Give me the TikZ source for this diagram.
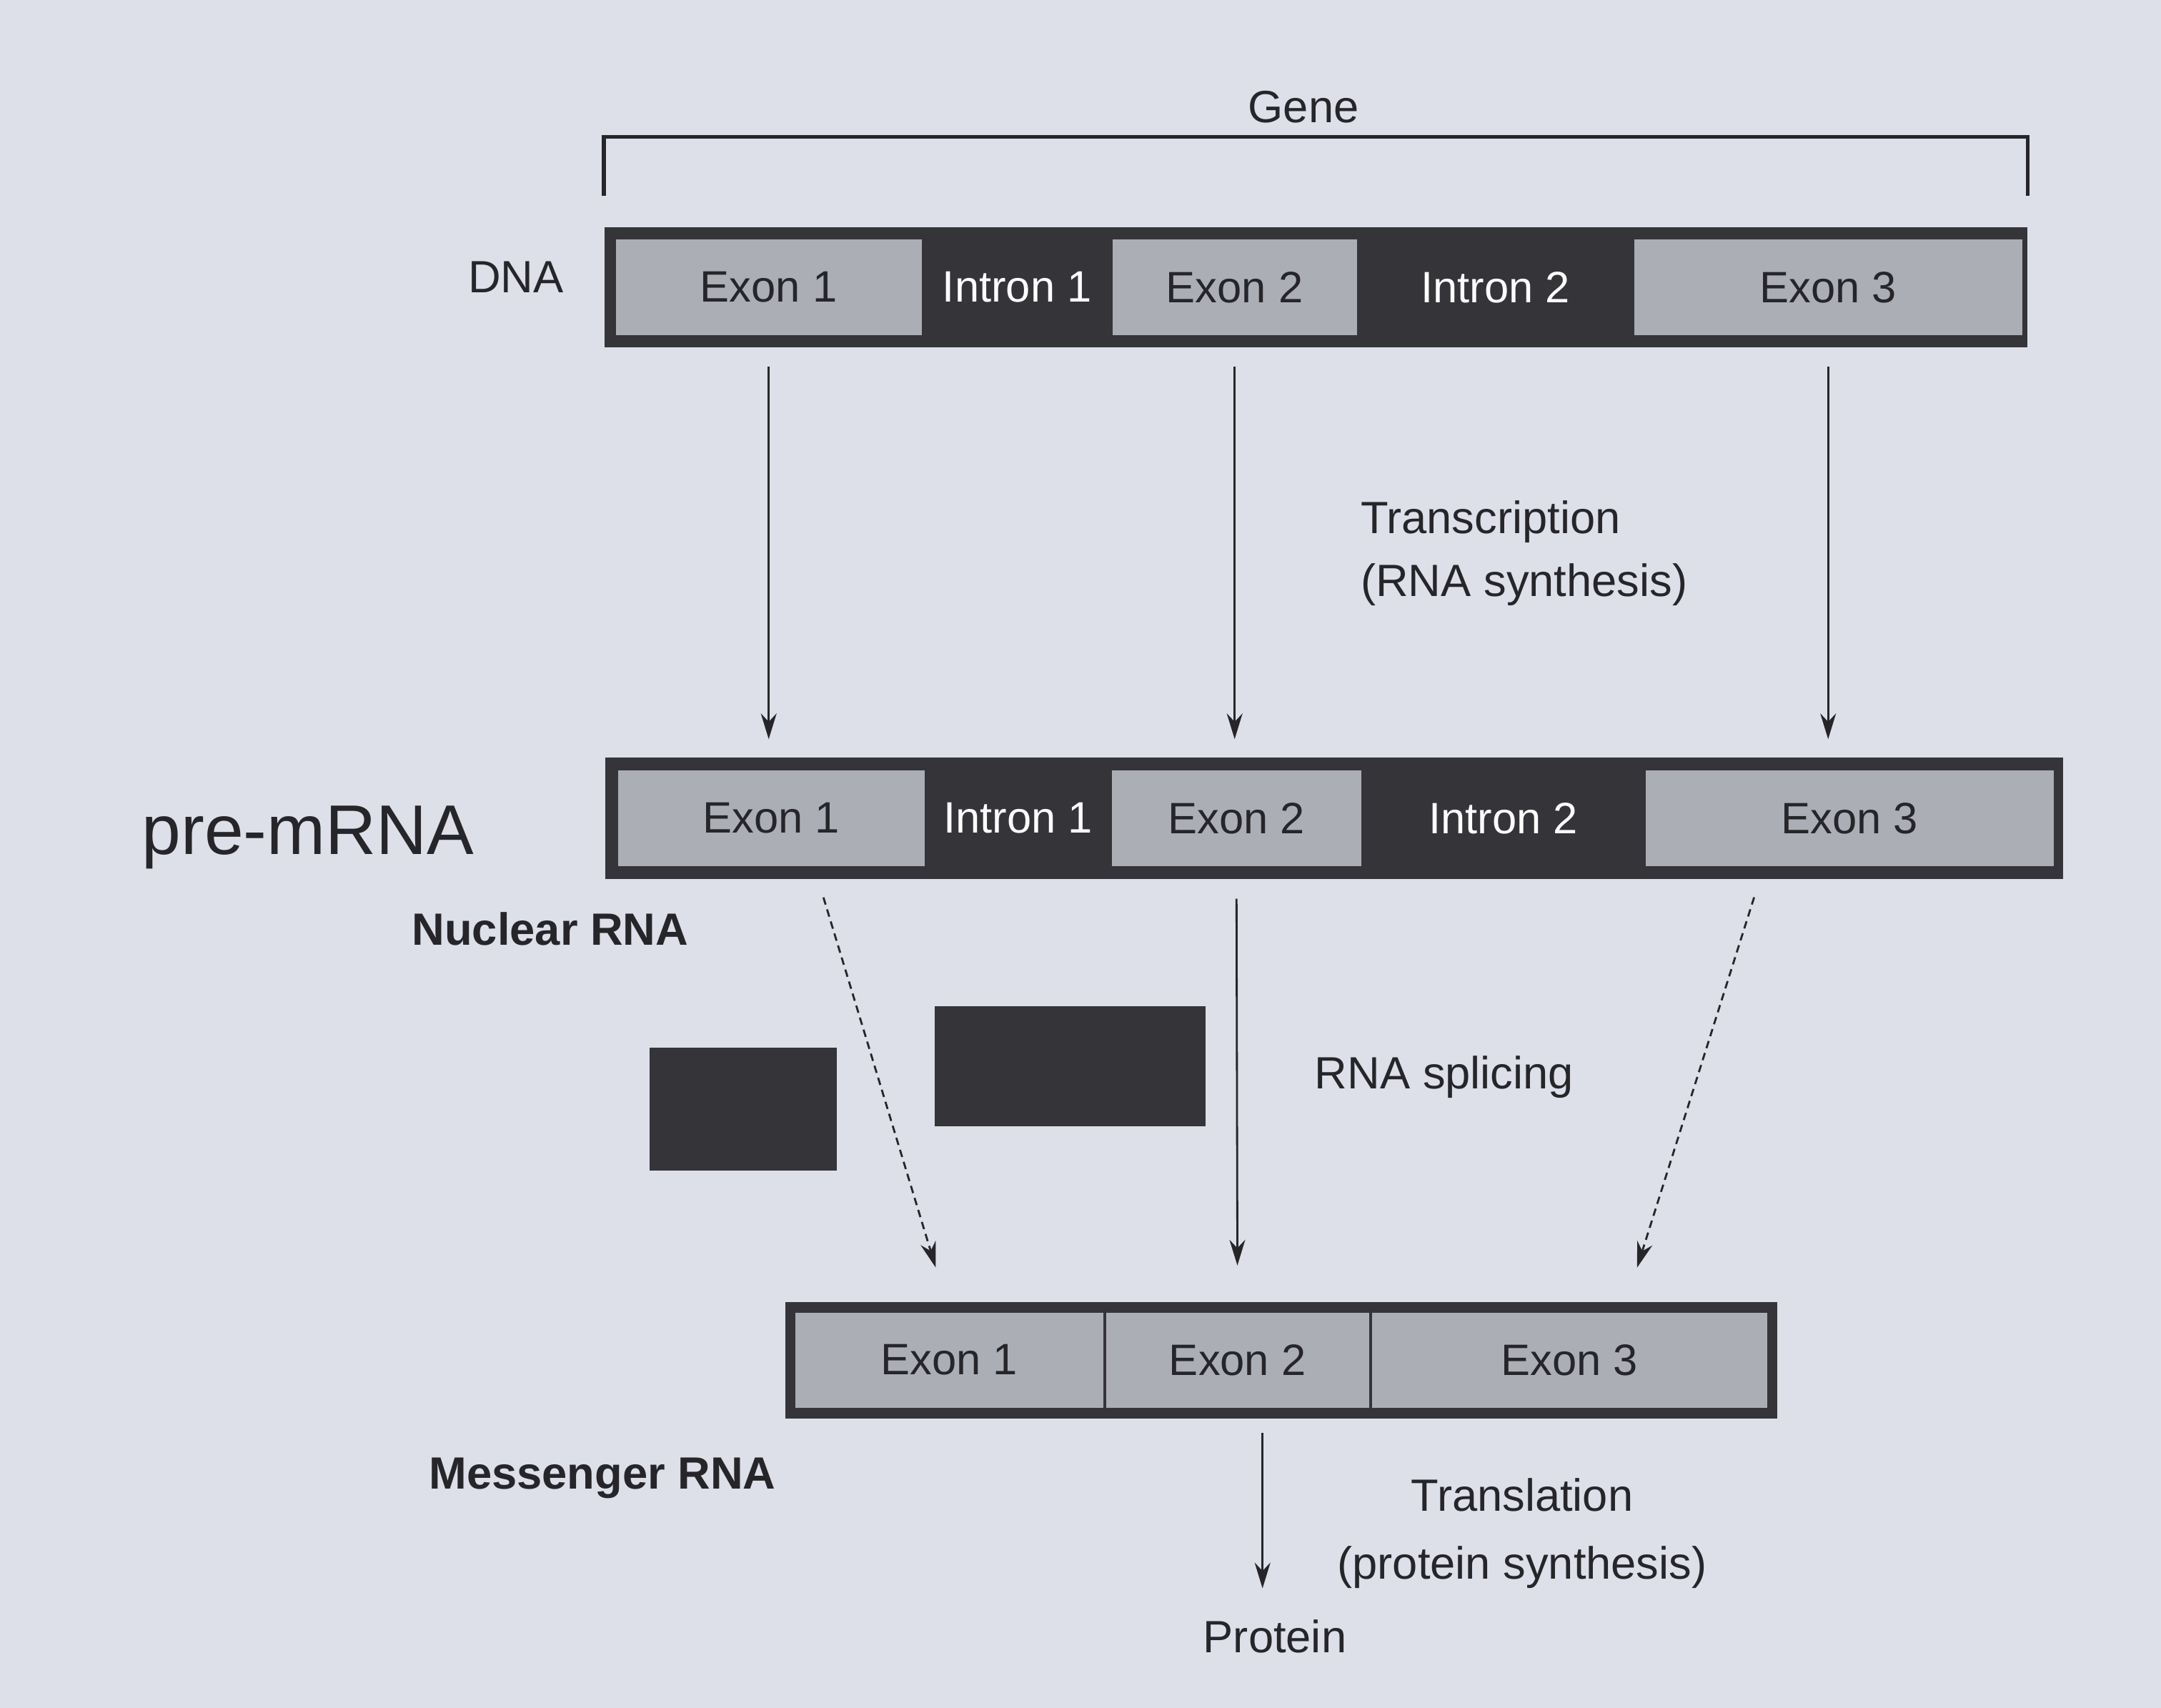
\documentclass[tikz,border=0pt]{standalone}
\usepackage{fontspec}
\setmainfont{Liberation Sans}
\usetikzlibrary{arrows.meta}
\definecolor{paper}{RGB}{221,223,233}
\definecolor{exongray}{RGB}{172,174,182}
\definecolor{bardark}{RGB}{52,52,57}
\definecolor{ink}{RGB}{38,38,42}
\tikzset{
  bar/.style={fill=bardark, inner sep=0pt, minimum height=1.68cm},
  exonbox/.style={fill=exongray, inner sep=0pt, minimum height=1.34cm, anchor=west, text=ink, font=\fontsize{17.5}{20}\selectfont},
  intronbox/.style={inner sep=0pt, minimum height=1.34cm, anchor=west, text=white, font=\fontsize{17.5}{20}\selectfont},
  cutbox/.style={fill=bardark, inner sep=0pt},
  lbl/.style={text=ink, font=\fontsize{18}{25}\selectfont, inner sep=1pt},
  flow/.style={draw=ink, line width=0.8pt, -{Stealth[length=3.6mm,width=2.2mm]}},
  splice/.style={flow, densely dashed},
}
\begin{document}
\begin{tikzpicture}
  \useasboundingbox[fill=paper] (0,0) rectangle (30.24,-23.90);

  % DNA
  \node[bar, minimum width=19.91cm, anchor=west] (dna) at (8.45,-4.02) {};
  \foreach \n/\x/\w/\t in {de1/8.61/4.28/Exon 1, de2/15.56/3.42/Exon 2, de3/22.86/5.43/Exon 3}
    \node[exonbox, minimum width=\w cm] (\n) at (\x,-4.02) {\t};
  \foreach \n/\x/\w/\t in {di1/12.89/2.67/Intron 1, di2/18.98/3.88/Intron 2}
    \node[intronbox, minimum width=\w cm] (\n) at (\x,-4.02) {\t};
  \draw[ink, line width=1.5pt] ([yshift=0.43cm]dna.north west) -- ++(0,0.83) -| ([yshift=0.43cm]dna.north east);
  \node[lbl] (gene) at (18.24,-1.50) {Gene};
  \node[lbl] (dnalbl) at (7.22,-3.88) {DNA};

  % pre-mRNA
  \node[bar, minimum width=20.40cm, minimum height=1.70cm, anchor=west] (pre) at (8.46,-11.45) {};
  \foreach \n/\x/\w/\t in {pe1/8.64/4.29/Exon 1, pe2/15.55/3.49/Exon 2, pe3/23.02/5.71/Exon 3}
    \node[exonbox, minimum width=\w cm] (\n) at (\x,-11.45) {\t};
  \foreach \n/\x/\w/\t in {pi1/12.93/2.62/Intron 1, pi2/19.04/3.98/Intron 2}
    \node[intronbox, minimum width=\w cm] (\n) at (\x,-11.45) {\t};
  \node[lbl, font=\fontsize{28}{32}\selectfont] (prelbl) at (4.31,-11.72) {pre-mRNA};
  \node[lbl, font=\fontsize{18}{25}\selectfont\bfseries] (nuclbl) at (7.70,-13.00) {Nuclear RNA};

  % transcription
  \foreach \a/\b in {de1/pe1, de2/pe2, de3/pe3}
    \draw[flow, shorten <=0.43cm, shorten >=0.43cm] (\a.south) -- (\a.south |- \b.north);
  \node[lbl, align=left, anchor=west] (transc) at (19.00,-7.74) {Transcription\\(RNA synthesis)};

  % removed introns
  \node[cutbox, minimum width=2.62cm, minimum height=1.72cm] (cut1) at (10.40,-15.52) {};
  \node[cutbox, minimum width=3.79cm, minimum height=1.68cm] (cut2) at (14.97,-14.92) {};

  % messenger RNA
  \node[bar, minimum width=13.88cm, minimum height=1.63cm, anchor=west] (mrna) at (10.98,-19.03) {};
  \foreach \n/\x/\w/\t in {me1/11.12/4.31/Exon 1, me2/15.47/3.68/Exon 2, me3/19.19/5.53/Exon 3}
    \node[exonbox, minimum width=\w cm, minimum height=1.33cm] (\n) at (\x,-19.03) {\t};
  \node[lbl, font=\fontsize{18}{25}\selectfont\bfseries] (mlbl) at (8.43,-20.68) {Messenger RNA};

  % splicing
  \draw[splice, shorten <=0.45cm, shorten >=0.65cm] ([xshift=0.6cm]pe1.south) -- (me1.north);
  \draw[flow, shorten <=0.45cm, shorten >=0.65cm] (pe2.south) -- (me2.north);
  \draw[splice, shorten <=0.45cm, shorten >=0.65cm] ([xshift=-1.2cm]pe3.south) -- ([xshift=0.75cm]me3.north);
  \node[lbl] (splbl) at (20.21,-15.07) {RNA splicing};

  % translation
  \node[lbl] (prot) at (17.84,-22.90) {Protein};
  \draw[flow, shorten <=0.35cm, shorten >=0.4cm] ([xshift=0.35cm]me2.south) -- ([xshift=0.35cm]me2.south |- prot.north);
  \node[lbl, align=center, font=\fontsize{18}{27}\selectfont] (transl) at (21.30,-21.46) {Translation\\(protein synthesis)};
\end{tikzpicture}
\end{document}
